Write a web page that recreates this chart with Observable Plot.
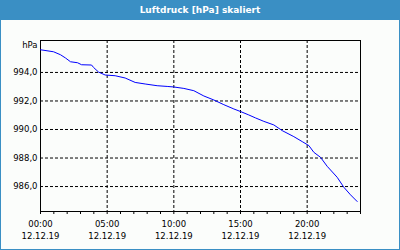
<!DOCTYPE html>
<html><head><meta charset="utf-8">
<script src="https://cdn.jsdelivr.net/npm/d3@7"></script>
<script src="https://cdn.jsdelivr.net/npm/@observablehq/plot@0.6"></script>
<style>
html,body{margin:0;padding:0;background:#fff;}
#wrap{position:relative;width:400px;height:250px;background:#fbfdfb;overflow:hidden;}
#title{position:absolute;left:0;top:0;width:400px;height:20px;background:#3a8fc4;color:#fff;
 font:bold 9px "DejaVu Sans",sans-serif;text-align:center;line-height:21px;}
#chart{position:absolute;left:0;top:20px;}
#border{position:absolute;left:0;top:0;width:400px;height:250px;box-sizing:border-box;border:1px solid #3a8fc4;pointer-events:none;}
</style></head>
<body>
<div id="wrap"><div id="title">Luftdruck [hPa] skaliert</div><div id="chart"></div><div id="border"></div></div>
<script>
const title = "Luftdruck [hPa] skaliert";
const unitLabel = ["hPa"];
const dateLabel = "12.12.19";
const hours = [0,0.98,1.5,1.88,2.25,2.78,3.08,3.83,3.98,4.35,4.85,5.6,6.35,7.1,7.85,8.75,9.5,10,10.75,11.5,12.25,13,13.75,14.5,15,15.62,16.13,16.75,17.5,18.13,19,19.63,20.13,20.5,21,21.5,22.25,22.75,23.25,23.75];
const pressure = [995.59,995.45,995.24,995.01,994.75,994.68,994.54,994.52,994.35,994.03,993.82,993.77,993.61,993.30,993.19,993.07,993.02,992.98,992.88,992.72,992.35,992.07,991.74,991.44,991.26,991.02,990.81,990.57,990.32,989.92,989.50,989.15,988.87,988.40,988.05,987.42,986.65,985.95,985.42,984.95];
const xMajor = [0,5,10,15,20];
const xMinor = d3.range(0,25);
const yTicks = [986,988,990,992,994];

const data = hours.map((h,i)=>({h, p: pressure[i]}));
const fmtX = d => String(d).padStart(2,"0") + ":00\n" + dateLabel;
const fmtY = d => d.toFixed(1).replace(".", ",");

const chart = Plot.plot({
  width: 400, height: 230,
  marginLeft: 40, marginRight: 40, marginTop: 20, marginBottom: 39,
  style: {background: "transparent", fontFamily: "DejaVu Sans, sans-serif", fontSize: "8.5px", color: "#000"},
  x: {domain: [0,24]},
  y: {domain: [984.25, 996.24]},
  marks: [
    Plot.gridX(xMajor, {stroke: "#000", strokeOpacity: 1, strokeDasharray: "3,2"}),
    Plot.gridY(yTicks, {stroke: "#000", strokeOpacity: 1, strokeDasharray: "3,2"}),
    Plot.axisX(xMinor, {tickSize: 3, tickFormat: () => "", label: null, stroke: "#000"}),
    Plot.axisX(xMajor, {tickSize: 0, tickPadding: 6, tickFormat: fmtX, label: null, lineHeight: 1.5, fill: "#000"}),
    Plot.axisY(yTicks, {tickSize: 0, tickPadding: 3, tickFormat: fmtY, label: null, fill: "#000"}),
    Plot.text(unitLabel, {frameAnchor: "top-left", text: d => d, textAnchor: "end", dx: -3, dy: 4.5, lineAnchor: "middle", fill: "#000"}),
    Plot.frame({stroke: "#000"}),
    Plot.line(data, {x: "h", y: "p", stroke: "#0000ff", strokeWidth: 1})
  ]
});
document.getElementById("chart").appendChild(chart);
</script>
</body></html>
